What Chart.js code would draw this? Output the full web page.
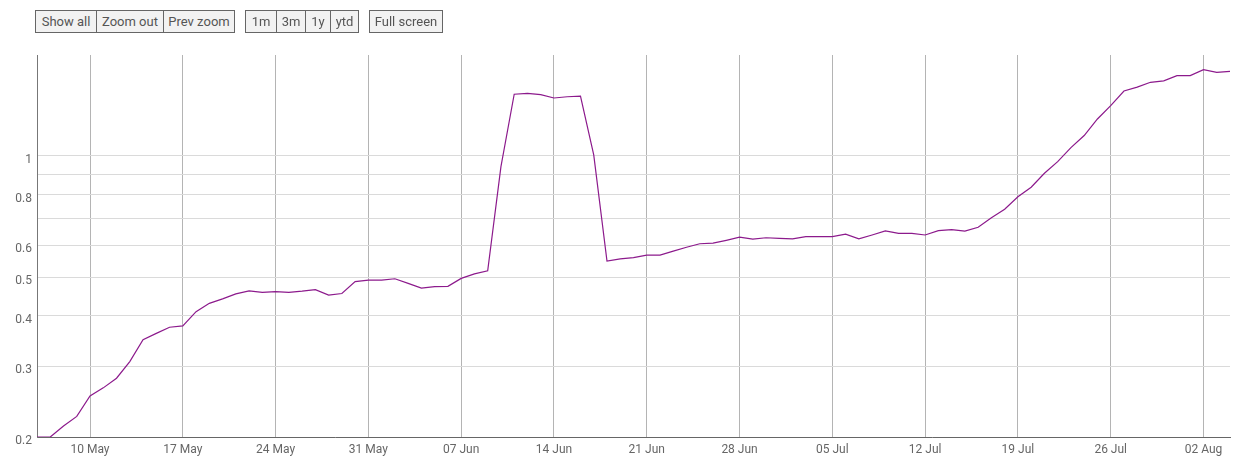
<!DOCTYPE html>
<html>
<head>
<meta charset="utf-8">
<script src="https://cdn.jsdelivr.net/npm/chart.js@4.4.0/dist/chart.umd.min.js"></script>
<style>
  body { margin: 0; background: #fff; font-family: Roboto, sans-serif; }
  #wrap { position: absolute; left: 0; top: 0; width: 1247px; height: 464px; }
  .grp { position: absolute; top: 10px; height: 23px; display: flex; border: 1px solid #666; box-sizing: border-box; background: #f2f2f2; z-index: 2; }
  .grp div { font-size: 13px; color: #555; line-height: 21px; text-align: center; box-sizing: border-box; border-left: 1px solid #666; }
  .grp div:first-child { border-left: none; }
</style>
</head>
<body>
<div id="wrap"><canvas id="myChart"></canvas></div>
<div class="grp" style="left:35px;width:200px">
  <div style="width:60px">Show all</div><div style="width:67px">Zoom out</div><div style="width:71px">Prev zoom</div>
</div>
<div class="grp" style="left:245px;width:114px">
  <div style="width:30px">1m</div><div style="width:29px">3m</div><div style="width:25px">1y</div><div style="width:28px">ytd</div>
</div>
<div class="grp" style="left:369px;width:74px">
  <div style="width:72px">Full screen</div>
</div>
<script>
const ctx = document.getElementById('myChart').getContext('2d');

// daily values from 06 May to 04 Aug
const values = [
  0.200, 0.200, 0.213, 0.225, 0.253, 0.265, 0.280, 0.308, 0.349, 0.362,
  0.375, 0.378, 0.410, 0.430, 0.441, 0.454, 0.462, 0.458, 0.460, 0.458,
  0.461, 0.465, 0.451, 0.455, 0.487, 0.491, 0.491, 0.495, 0.482, 0.469,
  0.473, 0.474, 0.496, 0.509, 0.518, 0.941, 1.424, 1.432, 1.421, 1.394,
  1.404, 1.408, 1.006, 0.548, 0.555, 0.559, 0.567, 0.567, 0.580, 0.593,
  0.605, 0.607, 0.617, 0.628, 0.621, 0.626, 0.624, 0.622, 0.630, 0.630,
  0.630, 0.639, 0.622, 0.636, 0.651, 0.642, 0.642, 0.636, 0.652, 0.656,
  0.650, 0.665, 0.702, 0.737, 0.792, 0.836, 0.906, 0.968, 1.049, 1.124,
  1.236, 1.334, 1.451, 1.483, 1.525, 1.537, 1.584, 1.584, 1.640, 1.615,
  1.624
];

const tickLabels = ['10 May', '17 May', '24 May', '31 May', '07 Jun', '14 Jun', '21 Jun',
  '28 Jun', '05 Jul', '12 Jul', '19 Jul', '26 Jul', '02 Aug'];
const yTicks = [0.2, 0.3, 0.4, 0.5, 0.6, 0.7, 0.8, 0.9, 1];
const yLabels = ['0.2', '0.3', '0.4', '0.5', '0.6', '', '0.8', '', '1'];

// category labels, one per day
const months = ['Jan', 'Feb', 'Mar', 'Apr', 'May', 'Jun', 'Jul', 'Aug', 'Sep', 'Oct', 'Nov', 'Dec'];
const labels = [];
for (let i = 0; i < values.length; i++) {
    let d = new Date(2021, 4, 6 + i);
    labels.push(String(d.getDate()).padStart(2, '0') + ' ' + months[d.getMonth()]);
}

Chart.defaults.font.family = 'Roboto';
Chart.defaults.font.size = 12;
Chart.defaults.color = '#666';

const myChart = new Chart(ctx, {
    type: 'line',
    data: {
        labels: labels,
        datasets: [{
            data: values,
            borderColor: '#8c1a8c',
            borderWidth: 1.2,
            pointRadius: 0,
            tension: 0,
            fill: false
        }]
    },
    options: {
        responsive: true,
        maintainAspectRatio: false,
        animation: false,
        layout: { padding: { left: 0, top: 55, right: 17, bottom: 0 } },
        plugins: { legend: { display: false }, tooltip: { enabled: false } },
        scales: {
            x: {
                type: 'category',
                offset: false,
                border: { color: '#666', width: 1 },
                grid: {
                    drawTicks: false,
                    color: (c) => tickLabels.includes(labels[c.index]) ? '#b4b4b4' : 'rgba(0,0,0,0)'
                },
                ticks: {
                    autoSkip: false,
                    maxRotation: 0,
                    padding: 6,
                    color: '#666',
                    callback: function (value) {
                        let l = this.getLabelForValue(value);
                        return tickLabels.includes(l) ? l : '';
                    }
                },
                afterFit: (s) => { s.height = 27; }
            },
            y: {
                type: 'logarithmic',
                min: 0.2,
                max: 1.783,
                border: { color: '#777', width: 1 },
                grid: { drawTicks: false, color: '#dadada' },
                afterBuildTicks: (s) => { s.ticks = yTicks.map(v => ({ value: v })); },
                ticks: {
                    padding: 5,
                    labelOffset: 4,
                    color: '#666',
                    callback: (v) => yLabels[yTicks.indexOf(v)]
                },
                afterFit: (s) => { s.width = 37; }
            }
        }
    }
});
</script>
</body>
</html>
